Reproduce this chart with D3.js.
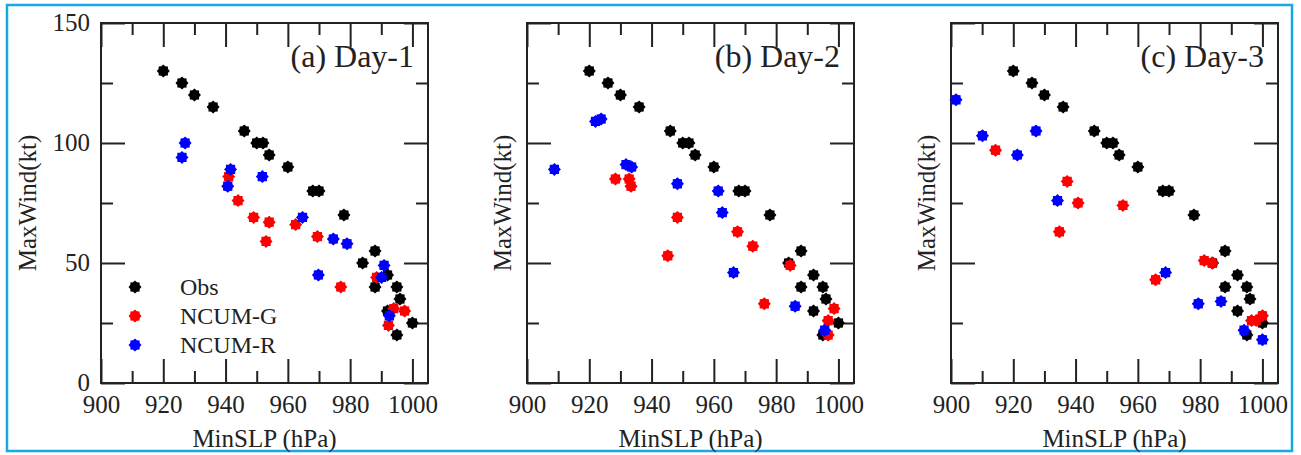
<!DOCTYPE html>
<html>
<head>
<meta charset="utf-8">
<script src="https://cdn.jsdelivr.net/npm/d3@7"></script>
<style>
  body { margin: 0; background: #fff; }
  svg text { font-family: "Liberation Serif", "Times New Roman", serif; fill: #222; }
</style>
</head>
<body>
<div id="chart"></div>
<script>
// observed best track (same in every panel)
const obsSLP  = [920, 926, 930, 936, 946, 950, 952, 954, 960, 968, 970, 978, 984, 988, 988, 992, 992, 995, 996, 1000, 995];
const obsWind = [130, 125, 120, 115, 105, 100, 100, 95, 90, 80, 80, 70, 50, 55, 40, 45, 30, 40, 35, 25, 20];

// Day-1 forecasts
const d1GSLP  = [941, 944, 949, 953, 954, 962.5, 969.5, 977, 988.5, 994, 997.5, 992.3];
const d1GWind = [86, 76, 69, 59, 67, 66, 61, 40, 44, 31, 30, 24];
const d1RSLP  = [927, 926, 941.6, 940.7, 951.8, 964.7, 974.6, 979, 969.8, 990.9, 990.1, 992.6];
const d1RWind = [100, 94, 89, 82, 86, 69, 60, 58, 45, 49, 44, 28];

// Day-2 forecasts
const d2GSLP  = [928.4, 932.8, 933.4, 948.3, 945.2, 967.6, 972.5, 976.2, 984.5, 998.6, 996.7, 996.7];
const d2GWind = [85, 85, 82, 69, 53, 63, 57, 33, 49, 31, 26, 20];
const d2RSLP  = [908.8, 922, 923.8, 931.8, 933.6, 948.3, 961.4, 962.7, 966.3, 986.1, 995.6];
const d2RWind = [89, 109, 110, 91, 90, 83, 80, 71, 46, 32, 22];

// Day-3 forecasts
const d3GSLP  = [914.3, 937.3, 934.8, 940.8, 955.2, 965.7, 981.3, 983.8, 996.5, 998, 1000];
const d3GWind = [97, 84, 63, 75, 74, 43, 51, 50, 26, 26, 28];
const d3RSLP  = [901.6, 910.1, 927.3, 921.3, 934.2, 968.9, 979.4, 986.7, 994.1, 1000];
const d3RWind = [118, 103, 105, 95, 76, 46, 33, 34, 22, 18];

const panelTitles = ["(a) Day-1", "(b) Day-2", "(c) Day-3"];
const seriesNames = ["Obs", "NCUM-G", "NCUM-R"];
const seriesColors = ["#000000", "#ff0000", "#0000ff"];

const xMajor = [900, 920, 940, 960, 980, 1000];
const xMinor = [910, 930, 950, 970, 990];
const yMajor = [0, 50, 100, 150];
const yMinor = [25, 75, 125];

const width = 1301;
const height = 455;
const plotLefts = [101, 527, 951];
const plotW = 327;
const plotTop = 23;
const plotBottom = 383;

const svg = d3.select("#chart").append("svg")
    .attr("width", width).attr("height", height);

svg.append("rect").attr("width", width).attr("height", height).attr("fill", "#fff");

// blue frame round the figure
svg.append("rect")
    .attr("x", 7).attr("y", 5).attr("width", 1285).attr("height", 446)
    .attr("fill", "none").attr("stroke", "#19a9e2").attr("stroke-width", 2.5);

// 8-point star marker like the xmgrace one
const starMarker = {
  draw(ctx, size) {
    const r = Math.sqrt(size / Math.PI) * 1.1;
    const ri = r * 0.78;
    for (let i = 0; i < 16; i++) {
      const a = i * Math.PI / 8 - Math.PI / 2;
      const rr = i % 2 === 0 ? r : ri;
      if (i === 0) ctx.moveTo(rr * Math.cos(a), rr * Math.sin(a));
      else ctx.lineTo(rr * Math.cos(a), rr * Math.sin(a));
    }
    ctx.closePath();
  }
};
const marker = d3.symbol().type(starMarker).size(110);

const y = d3.scaleLinear().domain([0, 150]).range([plotBottom, plotTop]);

function zip(xs, ys) { return xs.map((v, i) => ({slp: v, wind: ys[i]})); }

const panelData = [
  [zip(obsSLP, obsWind), zip(d1GSLP, d1GWind), zip(d1RSLP, d1RWind)],
  [zip(obsSLP, obsWind), zip(d2GSLP, d2GWind), zip(d2RSLP, d2RWind)],
  [zip(obsSLP, obsWind), zip(d3GSLP, d3GWind), zip(d3RSLP, d3RWind)]
];

function styleAxis(g) {
  g.select(".domain").remove();
  g.selectAll(".tick line").attr("stroke", "#222").attr("stroke-width", 2);
  g.selectAll(".tick text").attr("font-size", 25).attr("fill", "#222")
      .style("font-family", "'Liberation Serif', serif");
}

panelData.forEach((series, p) => {
  const left = plotLefts[p];
  const x = d3.scaleLinear().domain([900, 1005]).range([left, left + plotW]);
  const g = svg.append("g");

  // ticks on all four sides, pointing inward
  g.append("g").attr("transform", `translate(0,${plotBottom})`)
      .call(d3.axisBottom(x).tickValues(xMajor).tickSize(-24).tickPadding(12).tickFormat(d3.format("d")))
      .call(styleAxis);
  g.append("g").attr("transform", `translate(0,${plotBottom})`)
      .call(d3.axisBottom(x).tickValues(xMinor).tickSize(-12).tickFormat(""))
      .call(styleAxis);
  g.append("g").attr("transform", `translate(0,${plotTop})`)
      .call(d3.axisTop(x).tickValues(xMajor).tickSize(-24).tickFormat(""))
      .call(styleAxis);
  g.append("g").attr("transform", `translate(0,${plotTop})`)
      .call(d3.axisTop(x).tickValues(xMinor).tickSize(-12).tickFormat(""))
      .call(styleAxis);

  const yl = g.append("g").attr("transform", `translate(${left},0)`)
      .call(d3.axisLeft(y).tickValues(yMajor).tickSize(-24).tickPadding(11)
        .tickFormat(p === 0 ? d3.format("d") : ""))
      .call(styleAxis);
  yl.selectAll(".tick text").attr("dy", "0.3em");
  g.append("g").attr("transform", `translate(${left},0)`)
      .call(d3.axisLeft(y).tickValues(yMinor).tickSize(-12).tickFormat(""))
      .call(styleAxis);
  g.append("g").attr("transform", `translate(${left + plotW},0)`)
      .call(d3.axisRight(y).tickValues(yMajor).tickSize(-24).tickFormat(""))
      .call(styleAxis);
  g.append("g").attr("transform", `translate(${left + plotW},0)`)
      .call(d3.axisRight(y).tickValues(yMinor).tickSize(-12).tickFormat(""))
      .call(styleAxis);

  // frame
  g.append("rect")
      .attr("x", left).attr("y", plotTop)
      .attr("width", plotW).attr("height", plotBottom - plotTop)
      .attr("fill", "none").attr("stroke", "#222").attr("stroke-width", 2);

  // points: obs first, then NCUM-G, then NCUM-R on top
  series.forEach((pts, s) => {
    g.append("g").selectAll("path").data(pts).enter()
        .append("path")
        .attr("d", marker)
        .attr("transform", d => `translate(${x(d.slp)},${y(d.wind)})`)
        .attr("fill", seriesColors[s]);
  });

  g.append("text")
      .attr("x", left + plotW - 14).attr("y", 67)
      .attr("text-anchor", "end").attr("font-size", 32)
      .text(panelTitles[p]);

  g.append("text")
      .attr("x", left + plotW / 2).attr("y", 447)
      .attr("text-anchor", "middle").attr("font-size", 25)
      .text("MinSLP (hPa)");

  const labelX = p === 0 ? left - 74 : left - 25;
  g.append("text")
      .attr("transform", `translate(${labelX},${(plotTop + plotBottom) / 2}) rotate(-90)`)
      .attr("text-anchor", "middle").attr("dy", "0.35em").attr("font-size", 25)
      .text("MaxWind(kt)");
});

// legend inside panel (a)
const legend = svg.append("g");
seriesNames.forEach((name, i) => {
  const ly = 287 + i * 29;
  legend.append("path").attr("d", marker)
      .attr("transform", `translate(135,${ly})`)
      .attr("fill", seriesColors[i]);
  legend.append("text").attr("x", 180).attr("y", ly).attr("dy", "0.35em")
      .attr("font-size", 24).text(name);
});
</script>
</body>
</html>
